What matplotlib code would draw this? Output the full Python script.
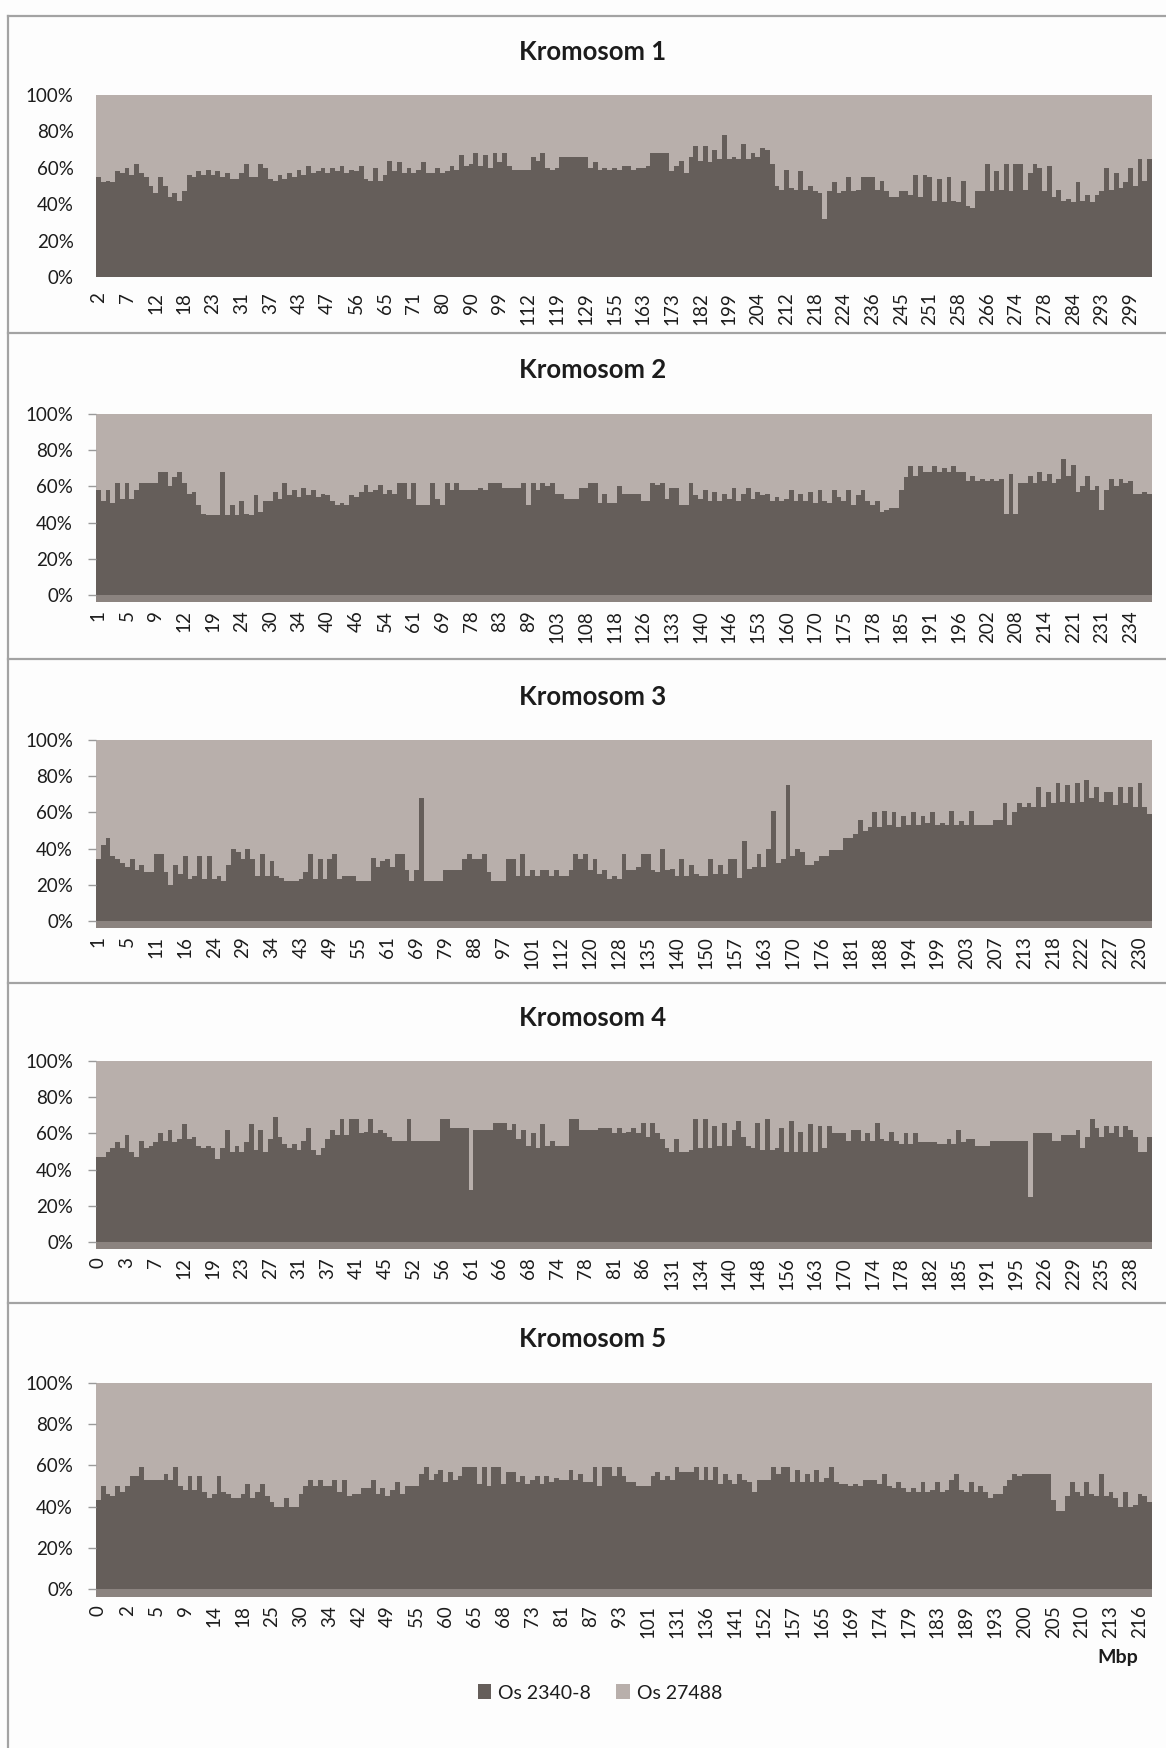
import numpy as np
import matplotlib
matplotlib.use("Agg")
import matplotlib.pyplot as plt
from matplotlib.patches import Patch
from matplotlib.lines import Line2D

plt.rcParams['font.family'] = ['Lato', 'DejaVu Sans']

# ---------------- data (percent of Os 2340-8 per marker) ----------------
chr1_ticks = [2, 7, 12, 18, 23, 31, 37, 43, 47, 56, 65, 71, 80, 90, 99, 112, 119, 129, 155,
              163, 173, 182, 199, 204, 212, 218, 224, 236, 245, 251, 258, 266, 274, 278,
              284, 293, 299]
chr1_pct = [55, 52, 53, 52, 58, 57, 60, 56, 62, 57, 55, 50, 46, 55, 50, 44, 46, 42,
            47, 56, 55, 58, 56, 59, 56, 58, 55, 57, 54, 54, 57, 62, 55, 55, 62, 60,
            54, 53, 56, 54, 57, 55, 59, 56, 61, 57, 58, 60, 57, 60, 58, 61, 57, 59,
            58, 61, 54, 53, 60, 53, 56, 64, 58, 63, 57, 60, 57, 59, 63, 57, 57, 60,
            57, 58, 61, 59, 67, 61, 62, 68, 61, 67, 60, 68, 63, 68, 61, 59, 59, 59,
            59, 66, 64, 68, 60, 59, 60, 66, 66, 66, 66, 66, 66, 60, 63, 59, 60, 59,
            60, 59, 61, 61, 59, 60, 60, 61, 68, 68, 68, 68, 58, 61, 64, 57, 66, 72,
            64, 72, 63, 70, 65, 78, 65, 66, 65, 73, 65, 68, 66, 71, 70, 62, 50, 48,
            59, 49, 48, 58, 48, 50, 47, 46, 32, 47, 52, 46, 47, 55, 47, 48, 55, 55,
            55, 48, 53, 47, 44, 44, 47, 47, 45, 56, 44, 56, 55, 42, 54, 41, 55, 42,
            41, 53, 39, 38, 47, 47, 62, 47, 58, 48, 62, 47, 62, 62, 48, 57, 62, 60,
            47, 61, 44, 48, 42, 43, 41, 52, 42, 45, 41, 45, 47, 60, 48, 57, 49, 52,
            60, 50, 65, 53, 65]

chr2_ticks = [1, 5, 9, 12, 19, 24, 30, 34, 40, 46, 54, 61, 69, 78, 83, 89, 103, 108, 118,
              126, 133, 140, 146, 153, 160, 170, 175, 178, 185, 191, 196, 202, 208, 214,
              221, 231, 234]
chr2_pct = [58, 52, 58, 51, 62, 53, 62, 53, 58, 62, 62, 62, 62, 68, 68, 60, 65, 68,
            62, 56, 57, 50, 45, 44, 44, 44, 68, 44, 50, 44, 52, 45, 44, 55, 46, 52,
            52, 57, 53, 62, 55, 58, 54, 59, 55, 58, 54, 56, 55, 52, 50, 51, 50, 55,
            54, 57, 61, 57, 58, 61, 56, 58, 56, 62, 62, 53, 62, 50, 50, 50, 62, 53,
            50, 62, 58, 62, 58, 58, 58, 58, 59, 58, 62, 62, 62, 59, 59, 59, 59, 62,
            50, 62, 58, 62, 60, 62, 56, 56, 53, 53, 53, 59, 59, 62, 62, 51, 56, 51,
            51, 60, 56, 56, 56, 56, 52, 52, 62, 61, 62, 53, 59, 59, 50, 50, 62, 55,
            53, 58, 52, 57, 52, 56, 53, 59, 52, 56, 59, 53, 57, 55, 56, 52, 54, 52,
            53, 58, 52, 56, 52, 57, 51, 58, 52, 51, 58, 54, 52, 58, 50, 55, 58, 52,
            50, 52, 46, 47, 48, 48, 58, 65, 71, 66, 71, 68, 68, 71, 68, 70, 68, 71,
            68, 68, 63, 66, 63, 64, 63, 64, 63, 64, 45, 67, 45, 62, 62, 66, 62, 68,
            63, 67, 62, 64, 75, 66, 72, 57, 60, 66, 58, 60, 47, 58, 64, 60, 64, 62,
            63, 56, 56, 57, 56]

chr3_ticks = [1, 5, 11, 16, 24, 29, 34, 43, 49, 55, 61, 69, 79, 88, 97, 101, 112, 120, 128,
              135, 140, 150, 157, 163, 170, 176, 181, 188, 194, 199, 203, 207, 213, 218,
              222, 227, 230]
chr3_pct = [34, 42, 46, 36, 34, 32, 30, 34, 28, 31, 27, 27, 37, 37, 27, 20, 31, 26,
            36, 23, 25, 36, 23, 36, 23, 25, 22, 31, 40, 38, 34, 40, 34, 25, 37, 25,
            33, 25, 24, 22, 22, 22, 23, 27, 37, 23, 34, 23, 34, 37, 23, 25, 25, 25,
            22, 22, 22, 35, 30, 33, 34, 30, 37, 37, 28, 22, 28, 68, 22, 22, 22, 22,
            28, 28, 28, 28, 34, 37, 34, 34, 37, 27, 22, 22, 22, 34, 34, 25, 37, 25,
            28, 25, 28, 28, 25, 28, 25, 25, 28, 37, 34, 37, 28, 34, 26, 28, 23, 25,
            23, 37, 28, 28, 30, 37, 37, 28, 27, 40, 28, 29, 25, 34, 25, 31, 26, 25,
            25, 34, 26, 31, 26, 34, 34, 24, 44, 29, 30, 37, 30, 40, 61, 32, 34, 75,
            36, 40, 38, 31, 31, 33, 36, 36, 39, 39, 39, 46, 46, 48, 56, 50, 52, 60,
            52, 61, 53, 60, 52, 58, 53, 60, 53, 58, 54, 60, 53, 54, 53, 61, 53, 55,
            53, 61, 53, 53, 53, 53, 56, 56, 65, 53, 60, 65, 63, 65, 63, 74, 63, 71,
            65, 76, 66, 75, 65, 76, 66, 78, 68, 74, 66, 71, 71, 64, 74, 65, 74, 63,
            76, 63, 59]

chr4_ticks = [0, 3, 7, 12, 19, 23, 27, 31, 37, 41, 45, 52, 56, 61, 66, 68, 74, 78, 81, 86,
              131, 134, 140, 148, 156, 163, 170, 174, 178, 182, 185, 191, 195, 226, 229,
              235, 238]
chr4_pct = [47, 47, 50, 52, 55, 52, 59, 50, 47, 56, 52, 53, 55, 60, 56, 62, 55, 57,
            65, 57, 58, 53, 52, 53, 52, 46, 52, 62, 50, 53, 50, 55, 65, 51, 62, 50,
            57, 69, 58, 54, 52, 54, 51, 56, 63, 51, 48, 52, 57, 62, 59, 68, 59, 68,
            68, 60, 61, 68, 60, 62, 60, 58, 56, 56, 56, 68, 56, 56, 56, 56, 56, 56,
            68, 68, 63, 63, 63, 63, 29, 62, 62, 62, 62, 66, 66, 66, 62, 65, 57, 62,
            53, 60, 52, 65, 53, 56, 53, 53, 53, 68, 68, 62, 62, 62, 62, 63, 63, 63,
            60, 63, 60, 61, 63, 60, 66, 58, 66, 60, 57, 52, 50, 57, 50, 50, 51, 68,
            52, 68, 52, 64, 53, 66, 53, 62, 67, 58, 53, 52, 66, 51, 68, 51, 52, 63,
            50, 67, 50, 61, 50, 65, 50, 64, 52, 64, 60, 60, 60, 56, 62, 62, 56, 60,
            56, 66, 57, 56, 61, 56, 54, 60, 54, 60, 55, 55, 55, 55, 54, 54, 57, 54,
            62, 55, 57, 57, 53, 53, 53, 56, 56, 56, 56, 56, 56, 56, 56, 25, 60, 60,
            60, 60, 56, 56, 59, 59, 59, 62, 52, 58, 68, 63, 58, 64, 60, 64, 58, 64,
            62, 58, 50, 50, 58]

chr5_ticks = [0, 2, 5, 9, 14, 18, 25, 30, 34, 42, 49, 55, 60, 65, 68, 73, 81, 87, 93, 101,
              131, 136, 141, 152, 157, 165, 169, 174, 179, 183, 189, 193, 200, 205, 210,
              213, 216]
chr5_pct = [43, 50, 46, 45, 50, 47, 50, 55, 55, 59, 53, 53, 53, 53, 56, 53, 59, 50,
            48, 55, 48, 55, 47, 44, 46, 55, 47, 46, 44, 44, 46, 51, 44, 47, 51, 45,
            42, 40, 40, 44, 40, 40, 46, 50, 53, 50, 53, 50, 50, 53, 47, 53, 45, 46,
            46, 49, 49, 53, 46, 49, 45, 48, 52, 46, 50, 50, 50, 56, 59, 53, 56, 58,
            52, 57, 53, 55, 59, 59, 59, 51, 59, 50, 59, 59, 51, 57, 57, 52, 55, 51,
            53, 55, 51, 55, 52, 54, 53, 53, 58, 53, 56, 52, 52, 59, 50, 59, 59, 55,
            59, 55, 52, 52, 50, 50, 50, 55, 57, 53, 55, 53, 59, 57, 57, 57, 59, 53,
            59, 53, 59, 51, 56, 53, 51, 56, 53, 52, 47, 53, 53, 53, 59, 56, 59, 59,
            52, 58, 52, 56, 52, 58, 52, 54, 59, 52, 51, 51, 50, 51, 50, 53, 53, 53,
            51, 56, 50, 49, 52, 49, 47, 49, 47, 52, 47, 48, 52, 47, 48, 53, 56, 48,
            47, 52, 47, 50, 47, 44, 46, 46, 50, 53, 56, 55, 56, 56, 56, 56, 56, 56,
            43, 38, 38, 45, 52, 47, 45, 52, 46, 45, 56, 45, 47, 44, 40, 47, 40, 41,
            46, 45, 42]

titles = ["Kromosom 1", "Kromosom 2", "Kromosom 3", "Kromosom 4", "Kromosom 5"]
series_names = ["Os 2340-8", "Os 27488"]
y_labels = ["0%", "20%", "40%", "60%", "80%", "100%"]

# ---------------- styling / layout ----------------
DARK = "#655e5a"
LIGHT = "#b8afab"
STRIP = "#8b837f"
TXT = "#1c1c1c"
FRAME = "#a3a3a3"

W, H = 1166, 1748
fig = plt.figure(figsize=(W / 100, H / 100), dpi=100)
fig.patch.set_facecolor("#fdfdfd")

# (top px, zero px, bottom px, title y px, strip, xpad)
layout = [
    (95, 277, 277, 52, False, 11),
    (414, 595, 602, 370, True, 6),
    (740, 921, 928, 697, True, 6),
    (1061, 1242, 1249, 1018, True, 6),
    (1383, 1589, 1597, 1339, True, 6),
]
data = [(chr1_pct, chr1_ticks), (chr2_pct, chr2_ticks), (chr3_pct, chr3_ticks),
        (chr4_pct, chr4_ticks), (chr5_pct, chr5_ticks)]

X0, X1 = 96, 1152
STEP = 6

for (vals, ticks), title, (top, zero, bottom, ty, strip, xpad) in zip(data, titles, layout):
    vals = np.asarray(vals, dtype=float)
    N = len(vals)
    ax = fig.add_axes([X0 / W, 1 - bottom / H, (X1 - X0) / W, (bottom - top) / H])
    strip_pct = (bottom - zero) / (zero - top) * 100.0
    ax.set_xlim(-0.5, N - 0.5)
    ax.set_ylim(-strip_pct, 100)
    edges = np.arange(N + 1) - 0.5
    ax.stairs(vals, edges, baseline=0, fill=True, color=DARK, lw=0)
    ax.stairs(np.full(N, 100.0), edges, baseline=vals, fill=True, color=LIGHT, lw=0)
    if strip:
        ax.axhspan(-strip_pct, 0, color=STRIP, lw=0)
    for s in ax.spines.values():
        s.set_visible(False)
    ax.set_yticks([0, 20, 40, 60, 80, 100])
    ax.set_yticklabels(y_labels, fontsize=13.5, color=TXT)
    if strip:
        ax.tick_params(axis="y", length=6, width=1, color="#9a9a9a", pad=10.5)
    else:
        ax.tick_params(axis="y", length=0, pad=16)
    ax.set_xticks(np.arange(len(ticks)) * STEP)
    ax.set_xticklabels([str(t) for t in ticks], rotation=90, fontsize=13.5, color=TXT)
    ax.tick_params(axis="x", length=0, pad=xpad)
    fig.text(593 / W, 1 - ty / H, title, ha="center", va="center",
             fontsize=18.5, fontweight="bold", color=TXT)

# frame lines
def hline(y):
    fig.add_artist(Line2D([8 / W, 1.0], [1 - y / H, 1 - y / H], transform=fig.transFigure,
                          color=FRAME, lw=1.6))

for y in [16, 333, 659, 983, 1303]:
    hline(y)
fig.add_artist(Line2D([8 / W, 8 / W], [1 - 16 / H, 0.0], transform=fig.transFigure,
                      color=FRAME, lw=1.6))

# axis unit
fig.text(1118 / W, 1 - 1657 / H, "Mbp", ha="center", va="center",
         fontsize=14, fontweight="bold", color=TXT)

# legend
handles = [Patch(facecolor=DARK, edgecolor="none"), Patch(facecolor=LIGHT, edgecolor="none")]
fig.legend(handles, series_names, loc="center", bbox_to_anchor=(600 / W, 1 - 1693 / H),
           ncol=2, frameon=False, fontsize=14, handlelength=0.7, handleheight=0.8,
           handletextpad=0.35, columnspacing=1.3, labelcolor=TXT)

fig.savefig("out.png", dpi=100, facecolor=fig.get_facecolor())
